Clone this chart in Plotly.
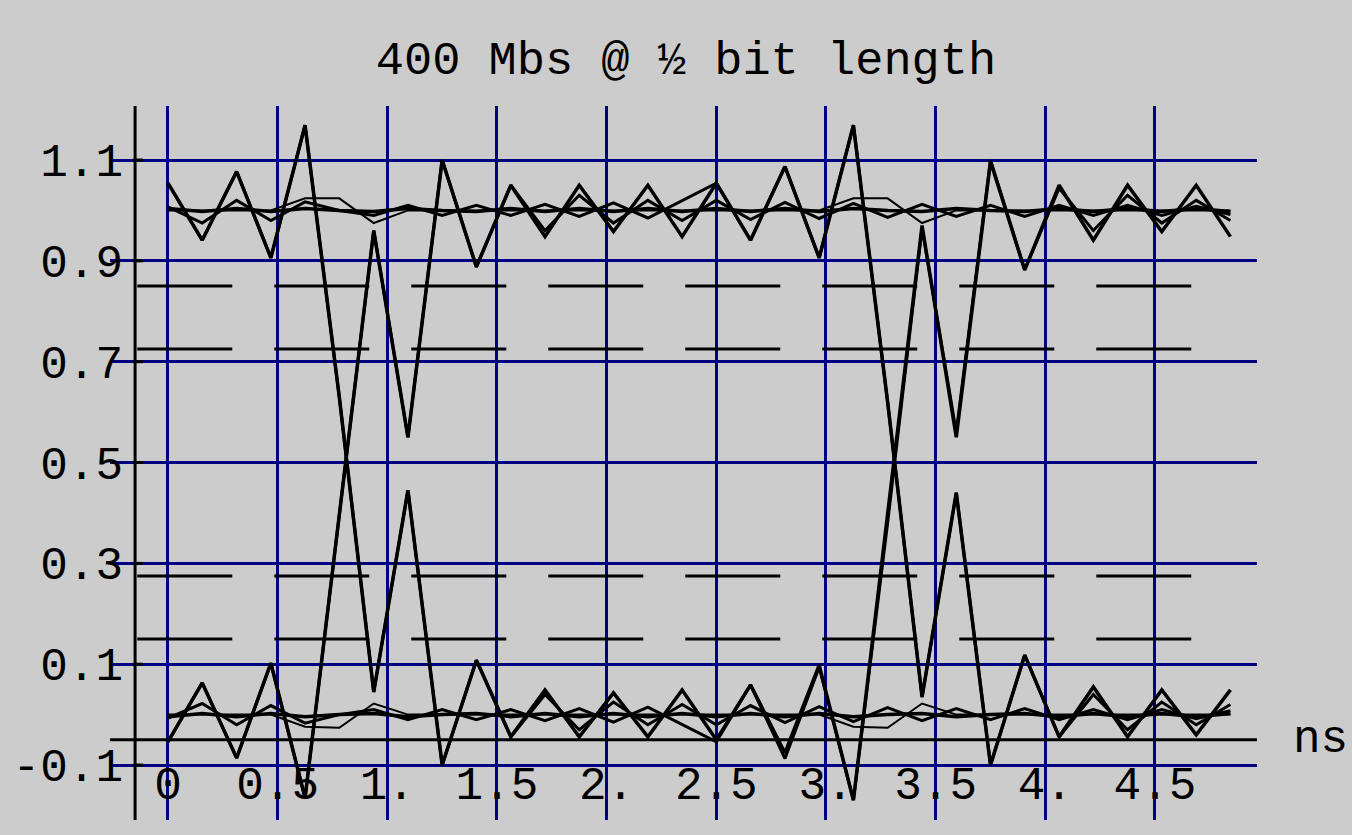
import plotly.graph_objects as go

# ---------------- data ----------------
t_ns = [0.0, 0.156, 0.313, 0.469, 0.625, 0.781, 0.938, 1.094, 1.25, 1.406,
        1.563, 1.719, 1.875, 2.031, 2.188, 2.344, 2.5, 2.656, 2.813, 2.969,
        3.125, 3.281, 3.438, 3.594, 3.75, 3.906, 4.063, 4.219, 4.375, 4.531,
        4.688, 4.844]

fall_101 = [1.054, 0.941, 1.077, 0.906, 1.169, 0.63, 0.045, 0.445, -0.10, 0.108,
            -0.044, 0.049, -0.044, 0.043, -0.044, 0.049, -0.05, 0.059, -0.076, 0.098,
            -0.17, 0.40, 0.97, 0.55, 1.097, 0.882, 1.05, 0.941, 1.05, 0.958,
            1.05, 0.948]
rise_010 = [-0.054, 0.063, -0.086, 0.102, -0.165, 0.40, 0.96, 0.55, 1.10, 0.888,
            1.05, 0.948, 1.05, 0.958, 1.05, 0.948, 1.054, 0.941, 1.087, 0.906,
            1.169, 0.62, 0.035, 0.44, -0.10, 0.118, -0.044, 0.055, -0.044, 0.049,
            -0.04, 0.049]
fall_100 = [1.054, 0.941, 1.077, 0.906, 1.169, 0.63, 0.045, 0.445, -0.10, 0.108,
            -0.044, 0.04, -0.03, 0.025, -0.02, 0.02, -0.02, 0.018, -0.016, 0.016,
            -0.014, 0.014, -0.012, 0.012, -0.01, 0.012, -0.01, 0.01, -0.01, 0.01,
            -0.008, 0.008]
rise_011 = [-0.054, 0.063, -0.086, 0.102, -0.165, 0.40, 0.96, 0.55, 1.10, 0.888,
            1.05, 0.96, 1.03, 0.975, 1.02, 0.98, 1.02, 0.982, 1.016, 0.984,
            1.014, 0.986, 1.012, 0.988, 1.01, 0.988, 1.01, 0.99, 1.01, 0.99,
            1.008, 0.992]
high_110 = [1.007, 0.975, 1.02, 0.98, 1.017, 1.0, 0.99, 1.01, 0.99, 1.01,
            0.99, 1.012, 0.988, 1.015, 0.985, 1.02, 1.054, 0.941, 1.087, 0.906,
            1.169, 0.62, 0.035, 0.44, -0.10, 0.118, -0.044, 0.04, -0.03, 0.025,
            -0.02, 0.02]
low_001 = [-0.007, 0.022, -0.02, 0.018, -0.017, 0.0, 0.01, -0.01, 0.01, -0.01,
           0.01, -0.012, 0.012, -0.015, 0.015, -0.02, -0.054, 0.059, -0.087, 0.094,
           -0.169, 0.38, 0.965, 0.56, 1.10, 0.882, 1.044, 0.96, 1.03, 0.975,
           1.02, 0.98]
steady_high = [1.004, 0.998, 1.004, 0.998, 1.004, 1.0, 0.998, 1.004, 1.0, 0.998,
               1.004, 0.998, 1.004, 0.998, 1.004, 0.998, 1.004, 0.998, 1.004, 0.998,
               1.004, 1.0, 0.998, 1.004, 1.0, 0.998, 1.004, 0.998, 1.004, 0.998,
               1.004, 0.998]
steady_low = [-0.004, 0.002, -0.004, 0.002, -0.004, 0.0, 0.002, -0.004, 0.0, 0.002,
              -0.004, 0.002, -0.004, 0.002, -0.004, 0.002, -0.004, 0.002, -0.004, 0.002,
              -0.004, 0.0, 0.002, -0.004, 0.0, 0.002, -0.004, 0.002, -0.004, 0.002,
              -0.004, 0.002]
thin_high = [1.0, 1.0, 1.0, 1.0, 1.024, 1.024, 0.975, 1.0, 1.0, 1.0,
             1.0, 1.0, 1.0, 1.0, 1.0, 1.0, 1.0, 1.0, 1.0, 1.0,
             1.024, 1.024, 0.975, 1.0, 1.0, 1.0, 1.0, 1.0, 1.0, 1.0,
             1.0, 1.0]
thin_low = [0.0, 0.0, 0.0, 0.0, -0.024, -0.026, 0.022, 0.0, 0.0, 0.0,
            0.0, 0.0, 0.0, 0.0, 0.0, 0.0, 0.0, 0.0, 0.0, 0.0,
            -0.024, -0.026, 0.022, 0.0, 0.0, 0.0, 0.0, 0.0, 0.0, 0.0,
            0.0, 0.0]

mask_levels = [0.85, 0.725, 0.275, 0.15]
mask_span_ns = [-0.14, 4.84]

x_tick_vals = [0, 0.5, 1.0, 1.5, 2.0, 2.5, 3.0, 3.5, 4.0, 4.5]
x_tick_text = ["0", "0.5", "1.", "1.5", "2.", "2.5", "3.", "3.5", "4.", "4.5"]
y_tick_vals = [-0.1, 0.1, 0.3, 0.5, 0.7, 0.9, 1.1]
y_tick_text = ["-0.1", "0.1", "0.3", "0.5", "0.7", "0.9", "1.1"]

axis_x_ns = -0.15       # position of the vertical black axis
axis_y_level = -0.05    # level of the horizontal black axis

# ---------------- style ----------------
X_RANGE = [-0.2644, 4.9651]
Y_RANGE = [-0.209, 1.2071]
BG = "#cccccc"
NAVY = "#000080"
FONT = "Liberation Mono, Courier New, monospace"

fig = go.Figure()

# dashed mask limit lines
for lvl in mask_levels:
    fig.add_trace(go.Scatter(x=mask_span_ns, y=[lvl, lvl], mode="lines",
                             line=dict(color="black", width=3, dash="95px,42px"),
                             hoverinfo="skip"))

waves = [
    (steady_high, 3.5), (steady_low, 3.5),
    (high_110, 3), (low_001, 3),
    (fall_100, 3), (rise_011, 3),
    (fall_101, 3.5), (rise_010, 3.5),
    (thin_high, 2), (thin_low, 2),
]
for vals, w in waves:
    fig.add_trace(go.Scatter(x=t_ns, y=vals, mode="lines",
                             line=dict(color="black", width=w),
                             hoverinfo="skip"))

shapes = [
    dict(type="line", xref="x", yref="paper", x0=axis_x_ns, x1=axis_x_ns, y0=0, y1=1,
         line=dict(color="black", width=3)),
    dict(type="line", xref="paper", yref="y", x0=0, x1=1, y0=axis_y_level, y1=axis_y_level,
         line=dict(color="black", width=3)),
]
px_per_ns = 1147 / (X_RANGE[1] - X_RANGE[0])
for yv in y_tick_vals:
    shapes.append(dict(type="line", xref="x", yref="y",
                       x0=axis_x_ns - 2 / px_per_ns, x1=axis_x_ns + 8 / px_per_ns,
                       y0=yv, y1=yv, line=dict(color="black", width=3)))

fig.update_layout(
    width=1352, height=835,
    paper_bgcolor=BG, plot_bgcolor=BG,
    margin=dict(l=110, r=95, t=106, b=15),
    showlegend=False,
    title=dict(text="400 Mbs @ ½ bit length", x=0.5074, xanchor="center",
               y=1 - 58 / 835, yanchor="middle",
               font=dict(family=FONT, size=47, color="black")),
    xaxis=dict(range=X_RANGE, tickvals=x_tick_vals, ticktext=x_tick_text,
               showgrid=True, gridcolor=NAVY, gridwidth=3, zeroline=False,
               showline=False, ticks="", anchor="free", position=0.095,
               tickfont=dict(family=FONT, size=46, color="black")),
    yaxis=dict(range=Y_RANGE, tickvals=y_tick_vals, ticktext=y_tick_text,
               showgrid=True, gridcolor=NAVY, gridwidth=3, zeroline=False,
               showline=False, ticks="", ticklabelstandoff=-14,
               tickfont=dict(family=FONT, size=46, color="black")),
    shapes=shapes,
    annotations=[dict(text="ns", xref="paper", yref="y", x=1.055, y=axis_y_level,
                      showarrow=False, xanchor="center", yanchor="middle",
                      font=dict(family=FONT, size=46, color="black"))],
)

fig.write_html("out.html", config={"displayModeBar": False},
               post_script="document.body.style.margin='0px';")
